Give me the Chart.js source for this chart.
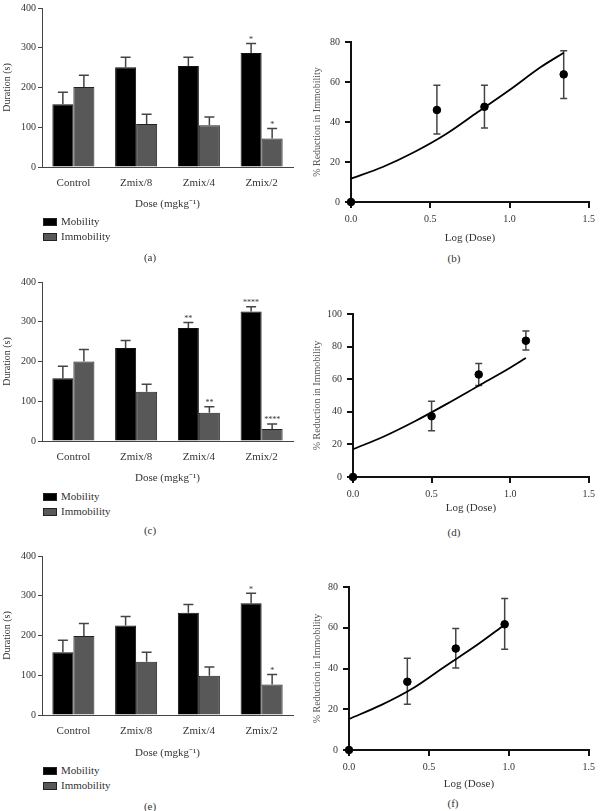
<!DOCTYPE html>
<html>
<head>
<meta charset="utf-8">
<script src="https://cdn.jsdelivr.net/npm/chart.js@4.4.1/dist/chart.umd.min.js"></script>
<style>
  body { margin: 0; background: #fff; font-family: 'Liberation Serif', serif; color: #333; }
  #fig { position: relative; width: 600px; height: 811px; overflow: hidden; }
  canvas { position: absolute; }
  .lbl { position: absolute; font-size: 11px; transform: translate(-50%, -50%); white-space: nowrap; }
  .leg { position: absolute; left: 43px; font-size: 11px; line-height: 15px; }
  .leg i { display: inline-block; width: 14px; height: 8px; margin-right: 4px; vertical-align: -1px; border: 1px solid #222; box-sizing: border-box; }
</style>
</head>
<body>
<div id="fig">
  <canvas id="pa" width="300" height="215" style="left:0;top:0"></canvas>
  <canvas id="pb" width="300" height="216" style="left:300px;top:30px"></canvas>
  <canvas id="pc" width="300" height="215" style="left:0;top:274px"></canvas>
  <canvas id="pd" width="300" height="216" style="left:300px;top:300px"></canvas>
  <canvas id="pe" width="300" height="215" style="left:0;top:548px"></canvas>
  <canvas id="pf" width="300" height="217" style="left:300px;top:575px"></canvas>

  <div class="leg" style="top:214px"><i style="background:#000"></i>Mobility<br><i style="background:#585858"></i>Immobility</div>
  <div class="leg" style="top:489px"><i style="background:#000"></i>Mobility<br><i style="background:#585858"></i>Immobility</div>
  <div class="leg" style="top:763px"><i style="background:#000"></i>Mobility<br><i style="background:#585858"></i>Immobility</div>

  <div class="lbl" style="left:150px;top:257px">(a)</div>
  <div class="lbl" style="left:454px;top:258px">(b)</div>
  <div class="lbl" style="left:150px;top:530px">(c)</div>
  <div class="lbl" style="left:454px;top:532px">(d)</div>
  <div class="lbl" style="left:150px;top:806px">(e)</div>
  <div class="lbl" style="left:453px;top:803px">(f)</div>
</div>
<script>
// bar panels (a), (c), (e)
const categories = ['Control', 'Zmix/8', 'Zmix/4', 'Zmix/2'];

const aMobility = [158, 251, 254, 287];
const aMobilityTop = [188, 276, 276, 311];
const aMobilityStars = ['', '', '', '*'];
const aImmobility = [201, 108, 105, 72];
const aImmobilityTop = [231, 133, 126, 97];
const aImmobilityStars = ['', '', '', '*'];

const cMobility = [158, 234, 284, 326];
const cMobilityTop = [188, 253, 298, 338];
const cMobilityStars = ['', '', '**', '****'];
const cImmobility = [200, 124, 71, 30];
const cImmobilityTop = [230, 143, 86, 43];
const cImmobilityStars = ['', '', '**', '****'];

const eMobility = [158, 225, 257, 281];
const eMobilityTop = [188, 248, 278, 306];
const eMobilityStars = ['', '', '', '*'];
const eImmobility = [199, 134, 99, 77];
const eImmobilityTop = [230, 158, 121, 102];
const eImmobilityStars = ['', '', '', '*'];

// dose-response panels (b), (d), (f)
const logTicks = ['0.0', '0.5', '1.0', '1.5'];

const bLogDose = [0, 0.542, 0.842, 1.342];
const bReduction = [0, 46, 47.6, 63.8];
const bLow = [null, 34, 37, 51.8];
const bHigh = [null, 58.4, 58.4, 75.6];
const bFitX = [0, 0.2, 0.4, 0.6, 0.8, 1.0, 1.2, 1.342];
const bFitY = [11.7, 17.5, 25, 34, 45, 56, 67.6, 74.6];

const dLogDose = [0, 0.5, 0.8, 1.1];
const dReduction = [0, 37.3, 62.9, 83.6];
const dLow = [null, 28.3, 56.1, 77.9];
const dHigh = [null, 46.5, 69.7, 89.5];
const dFitX = [0, 0.2, 0.4, 0.6, 0.8, 1.0, 1.1];
const dFitY = [17, 25, 34.5, 45, 56, 67, 73];

const fLogDose = [0, 0.365, 0.668, 0.974];
const fReduction = [0, 33.5, 49.8, 61.7];
const fLow = [null, 22.4, 40.3, 49.5];
const fHigh = [null, 45, 59.6, 74.3];
const fFitX = [0, 0.2, 0.4, 0.6, 0.8, 0.974];
const fFitY = [15.2, 22, 30.3, 41, 51.5, 61.5];

Chart.defaults.font.family = "'Liberation Serif', serif";
Chart.defaults.color = '#333';
Chart.defaults.animation = false;

// error bars (and significance stars) drawn from the y scale
const errorBars = {
  id: 'errorBars',
  afterDatasetsDraw(chart) {
    const ctx = chart.ctx, ys = chart.scales.y;
    chart.data.datasets.forEach((ds, di) => {
      if (!ds.errHigh) return;
      const meta = chart.getDatasetMeta(di);
      meta.data.forEach((el, i) => {
        const hi = ds.errHigh[i];
        if (hi == null) return;
        const lo = ds.errLow ? ds.errLow[i] : ds.data[i];
        const x = el.x, y1 = ys.getPixelForValue(hi), y0 = ys.getPixelForValue(lo);
        const w = ds.capWidth || 5;
        ctx.save();
        ctx.strokeStyle = '#444';
        ctx.lineWidth = 1.5;
        ctx.beginPath();
        ctx.moveTo(x, y0); ctx.lineTo(x, y1);
        ctx.moveTo(x - w, y1); ctx.lineTo(x + w, y1);
        if (ds.errLow) { ctx.moveTo(x - w, y0); ctx.lineTo(x + w, y0); }
        ctx.stroke();
        if (ds.stars && ds.stars[i]) {
          ctx.fillStyle = '#333';
          ctx.font = "8px 'Liberation Serif', serif";
          ctx.textAlign = 'center';
          ctx.textBaseline = 'alphabetic';
          ctx.fillText(ds.stars[i], x, y1 - 1.5);
        }
        ctx.restore();
      });
    });
  }
};

function barPanel(id, mob, mobTop, mobStars, imm, immTop, immStars, xTitlePad) {
  new Chart(document.getElementById(id), {
    type: 'bar',
    data: {
      labels: categories,
      datasets: [
        { label: 'Mobility', data: mob, errHigh: mobTop, stars: mobStars, capWidth: 5,
          backgroundColor: '#000', borderColor: '#111', borderWidth: 1 },
        { label: 'Immobility', data: imm, errHigh: immTop, stars: immStars, capWidth: 5,
          backgroundColor: '#585858', borderColor: '#222', borderWidth: 1 }
      ]
    },
    options: {
      responsive: false,
      devicePixelRatio: 1,
      layout: { padding: { top: 5, right: 7, left: 0, bottom: 0 } },
      plugins: { legend: { display: false }, tooltip: { enabled: false } },
      datasets: { bar: { barPercentage: 1, categoryPercentage: 0.67 } },
      scales: {
        x: {
          grid: { display: false, drawTicks: false },
          border: { color: '#444', width: 1 },
          ticks: { font: { size: 11 }, padding: 10, color: '#333' },
          title: { display: true, text: 'Dose (mgkg\u207B\u00B9)', font: { size: 11 }, padding: { top: 0, bottom: xTitlePad } },
          afterFit: s => { s.height = 48; }
        },
        y: {
          min: 0, max: 400,
          grid: { drawOnChartArea: false, tickLength: 4, color: '#444' },
          border: { color: '#444', width: 1 },
          ticks: { stepSize: 100, font: { size: 10 }, padding: 2, color: '#333' },
          title: { display: true, text: 'Duration (s)', font: { size: 10 }, padding: { top: 1, bottom: 0 } },
          afterFit: s => { s.width = 42; }
        }
      }
    },
    plugins: [errorBars]
  });
}

function curvePanel(id, xs, ys, lo, hi, fitX, fitY, yMax, yWidth, padTop, padRight, xHeight) {
  new Chart(document.getElementById(id), {
    type: 'scatter',
    data: {
      datasets: [
        { type: 'line', data: fitX.map((x, i) => ({ x: x, y: fitY[i] })),
          borderColor: '#000', borderWidth: 1.8, pointRadius: 0, fill: false,
          cubicInterpolationMode: 'monotone', clip: false },
        { type: 'scatter', data: xs.map((x, i) => ({ x: x, y: ys[i] })),
          errLow: lo, errHigh: hi, capWidth: 3.5,
          backgroundColor: '#000', borderColor: '#000', pointRadius: 3.8, clip: false }
      ]
    },
    options: {
      responsive: false,
      devicePixelRatio: 1,
      layout: { padding: { top: padTop, right: padRight, left: 0, bottom: 0 } },
      plugins: { legend: { display: false }, tooltip: { enabled: false } },
      scales: {
        x: {
          type: 'linear', min: 0, max: 1.5,
          grid: { drawOnChartArea: false, tickLength: 6, color: '#111', lineWidth: 2 },
          border: { color: '#111', width: 2 },
          ticks: { stepSize: 0.5, font: { size: 10 }, padding: 5, color: '#333',
                   callback: (v, i) => logTicks[i] },
          title: { display: true, text: 'Log (Dose)', font: { size: 11 }, padding: { top: 0, bottom: 1 } },
          afterFit: s => { s.height = xHeight; }
        },
        y: {
          min: 0, max: yMax,
          grid: { drawOnChartArea: false, tickLength: 6, color: '#111', lineWidth: 2 },
          border: { color: '#111', width: 2 },
          ticks: { stepSize: 20, font: { size: 10 }, padding: 5, color: '#333' },
          title: { display: true, text: '% Reduction in Immobility', color: '#555', font: { size: 10 }, padding: { top: 11, bottom: 0 } },
          afterFit: s => { s.width = yWidth; }
        }
      }
    },
    plugins: [{ id: 'errFirst', beforeDatasetsDraw: errorBars.afterDatasetsDraw }]
  });
}

barPanel('pa', aMobility, aMobilityTop, aMobilityStars, aImmobility, aImmobilityTop, aImmobilityStars, 4.5);
barPanel('pc', cMobility, cMobilityTop, cMobilityStars, cImmobility, cImmobilityTop, cImmobilityStars, 4.5);
barPanel('pe', eMobility, eMobilityTop, eMobilityStars, eImmobility, eImmobilityTop, eImmobilityStars, 3.5);

curvePanel('pb', bLogDose, bReduction, bLow, bHigh, bFitX, bFitY, 80, 51, 12, 9, 44);
curvePanel('pd', dLogDose, dReduction, dLow, dHigh, dFitX, dFitY, 100, 53, 14, 5, 39);
curvePanel('pf', fLogDose, fReduction, fLow, fHigh, fFitX, fFitY, 80, 49, 12, 9, 42);
</script>
</body>
</html>
